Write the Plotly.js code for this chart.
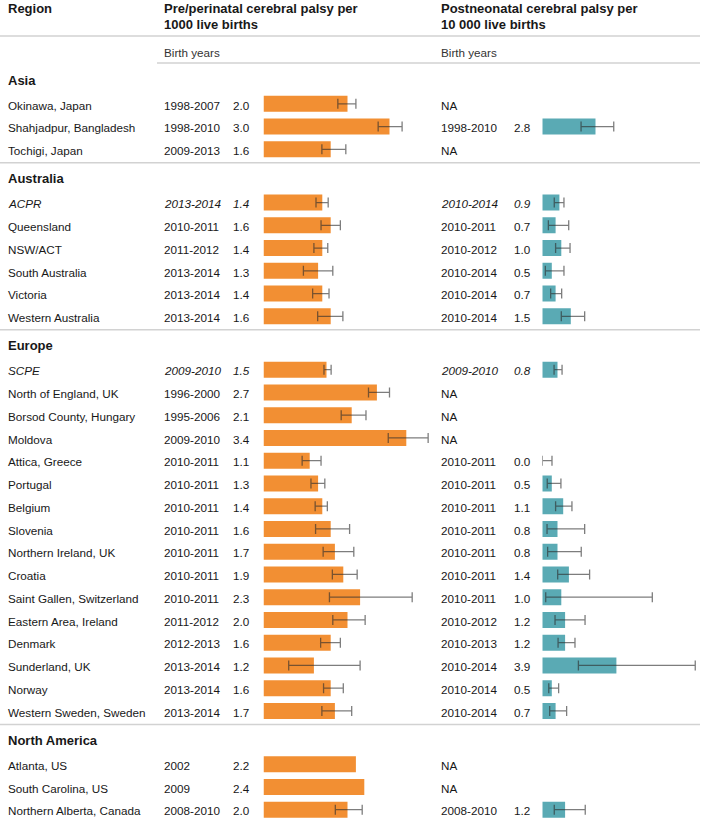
<!DOCTYPE html>
<html>
<head>
<meta charset="utf-8">
<script src="https://cdn.plot.ly/plotly-3.0.1.min.js"></script>
<style>html,body{margin:0;padding:0;background:#fff;}#chart{width:709px;height:820px;}</style>
</head>
<body>
<div id="chart"></div>
<script>
// ---------------- DATA ----------------
var sections = ["Asia", "Australia", "Europe", "North America"];
var rowSection = [0,0,0, 1,1,1,1,1,1, 2,2,2,2,2,2,2,2,2,2,2,2,2,2,2,2, 3,3,3];
var regions = ["Okinawa, Japan","Shahjadpur, Bangladesh","Tochigi, Japan",
  "ACPR","Queensland","NSW/ACT","South Australia","Victoria","Western Australia",
  "SCPE","North of England, UK","Borsod County, Hungary","Moldova","Attica, Greece","Portugal","Belgium","Slovenia","Northern Ireland, UK","Croatia","Saint Gallen, Switzerland","Eastern Area, Ireland","Denmark","Sunderland, UK","Norway","Western Sweden, Sweden",
  "Atlanta, US","South Carolina, US","Northern Alberta, Canada"];
var pooled = ["ACPR", "SCPE"];

var preYears = ["1998-2007","1998-2010","2009-2013",
  "2013-2014","2010-2011","2011-2012","2013-2014","2013-2014","2013-2014",
  "2009-2010","1996-2000","1995-2006","2009-2010","2010-2011","2010-2011","2010-2011","2010-2011","2010-2011","2010-2011","2010-2011","2011-2012","2012-2013","2013-2014","2013-2014","2013-2014",
  "2002","2009","2008-2010"];
var preRate = [2.0,3.0,1.6, 1.4,1.6,1.4,1.3,1.4,1.6, 1.5,2.7,2.1,3.4,1.1,1.3,1.4,1.6,1.7,1.9,2.3,2.0,1.6,1.2,1.6,1.7, 2.2,2.4,2.0];
var preLow  = [1.77,2.73,1.39, 1.25,1.37,1.20,0.95,1.17,1.29, 1.44,2.50,1.85,2.97,0.92,1.13,1.23,1.24,1.42,1.64,1.57,1.65,1.36,0.60,1.43,1.39, null,null,1.71];
var preHigh = [2.20,3.30,1.96, 1.54,1.83,1.53,1.65,1.56,1.89, 1.61,3.00,2.44,3.92,1.37,1.46,1.52,2.05,2.15,2.23,3.54,2.42,1.83,2.30,1.90,2.10, null,null,2.35];

var postYears = ["NA","1998-2010","NA",
  "2010-2014","2010-2011","2010-2012","2010-2014","2010-2014","2010-2014",
  "2009-2010","NA","NA","NA","2010-2011","2010-2011","2010-2011","2010-2011","2010-2011","2010-2011","2010-2011","2010-2012","2010-2013","2010-2014","2010-2014","2010-2014",
  "NA","NA","2008-2010"];
var postRate = [null,2.8,null, 0.9,0.7,1.0,0.5,0.7,1.5, 0.8,null,null,null,0.0,0.5,1.1,0.8,0.8,1.4,1.0,1.2,1.2,3.9,0.5,0.7, null,null,1.2];
var postLow  = [null,2.04,null, 0.63,0.32,0.70,0.16,0.44,1.00, 0.62,null,null,null,0.00,0.26,0.70,0.25,0.28,0.81,0.18,0.67,0.83,1.90,0.34,0.39, null,null,0.63];
var postHigh = [null,3.76,null, 1.14,1.39,1.46,1.14,1.02,2.23, 1.04,null,null,null,0.51,0.98,1.56,2.23,2.05,2.49,5.79,2.25,1.72,8.05,0.86,1.28, null,null,2.26];

var headerPre = ["Pre/perinatal cerebral palsy per", "1000 live births"];
var headerPost = ["Postneonatal cerebral palsy per", "10 000 live births"];
var headerRegion = "Region";
var subHeader = "Birth years";

// ---------------- LAYOUT HELPERS ----------------
var W = 709, H = 820;
var FONT = "Liberation Sans, Arial, Helvetica, sans-serif";
var TXT = "#181818";
function px(x){ return x / W; }

// vertical row positions (pixel-like units on reversed y axis)
var rowY = [], secY = [], sepY = [];
var y = 79;
for (var s = 0; s < sections.length; s++) {
  secY.push(y);
  y += 24.8;
  var last = y;
  for (var i = 0; i < regions.length; i++) {
    if (rowSection[i] === s) { rowY[i] = y; last = y; y += 22.75; }
  }
  if (s < sections.length - 1) {
    var sp = last + 13.5;
    sepY.push(sp);
    y = sp + 15;
  }
}

function errs(rate, lo, hi) {
  var plus = [], minus = [];
  for (var i = 0; i < rate.length; i++) {
    if (rate[i] === null || lo[i] === null || hi[i] === null) { plus.push(NaN); minus.push(NaN); }
    else { plus.push(hi[i] - rate[i]); minus.push(rate[i] - lo[i]); }
  }
  return {plus: plus, minus: minus};
}
var ePre = errs(preRate, preLow, preHigh);
var ePost = errs(postRate, postLow, postHigh);

var errStyle = {color: "rgba(45,45,45,0.62)", thickness: 1.3, width: 5};

var traces = [
  {
    type: "bar", orientation: "h", x: preRate, y: rowY, width: 16,
    xaxis: "x", yaxis: "y",
    marker: {color: "#F28F33", line: {width: 0}},
    error_x: Object.assign({type: "data", symmetric: false, array: ePre.plus, arrayminus: ePre.minus}, errStyle),
    hoverinfo: "skip", showlegend: false
  },
  {
    type: "bar", orientation: "h", x: postRate, y: rowY, width: 16,
    xaxis: "x2", yaxis: "y",
    marker: {color: "#5AAAB4", line: {width: 0}},
    error_x: Object.assign({type: "data", symmetric: false, array: ePost.plus, arrayminus: ePost.minus}, errStyle),
    hoverinfo: "skip", showlegend: false
  }
];

var ann = [];
function addText(text, x, yy, opts) {
  opts = opts || {};
  ann.push({
    text: text, xref: "paper", x: px(x), yref: "y", y: yy,
    xanchor: opts.anchor || "left", yanchor: "middle", showarrow: false,
    borderpad: 0,
    font: {family: FONT, size: opts.size || 11.7, color: opts.color || TXT, weight: opts.weight || "normal", style: opts.style || "normal"}
  });
}

// headers
addText(headerRegion, 7, 8, {size: 13, weight: "bold"});
addText(headerPre[0], 163, 8, {size: 13, weight: "bold"});
addText(headerPre[1], 163, 24.5, {size: 13, weight: "bold"});
addText(headerPost[0], 440, 8, {size: 13, weight: "bold"});
addText(headerPost[1], 440, 24.5, {size: 13, weight: "bold"});
addText(subHeader, 163, 52, {size: 11.7, color: "#333"});
addText(subHeader, 440, 52, {size: 11.7, color: "#333"});

for (var s2 = 0; s2 < sections.length; s2++) {
  addText(sections[s2], 7, secY[s2] + 1, {size: 13, weight: "bold"});
}
for (var k = 0; k < regions.length; k++) {
  var it = pooled.indexOf(regions[k]) >= 0 ? "italic" : "normal";
  var yy = rowY[k] + 1.2;
  addText(regions[k], 7, yy, {style: it});
  addText(preYears[k], 163, yy, {style: it});
  addText(preRate[k].toFixed(1), 232, yy, {style: it});
  addText(postYears[k], 440, yy, {style: it});
  if (postRate[k] !== null) addText(postRate[k].toFixed(1), 513, yy, {style: it});
}

var shapes = [];
function hline(x0, x1, yy) {
  shapes.push({type: "line", xref: "paper", yref: "y", x0: px(x0), x1: px(x1), y0: yy, y1: yy,
    line: {color: "#d2d2d2", width: 1.5}});
}
hline(0, 700, 36);
hline(157, 700, 63);
sepY.forEach(function(v){ hline(0, 700, v); });

var layout = {
  width: W, height: H,
  margin: {l: 0, r: 0, t: 0, b: 0, pad: 0},
  paper_bgcolor: "#ffffff", plot_bgcolor: "#ffffff",
  showlegend: false,
  xaxis: {domain: [px(263.5), px(440)], range: [0, (440 - 263.5) / 42], visible: false, fixedrange: true, anchor: "y"},
  xaxis2: {domain: [px(542.3), 1], range: [0, (709 - 542.3) / 19], visible: false, fixedrange: true, anchor: "y"},
  yaxis: {domain: [0, 1], range: [H, 0], visible: false, fixedrange: true},
  annotations: ann,
  shapes: shapes
};

Plotly.newPlot("chart", traces, layout, {displayModeBar: false, staticPlot: true});
</script>
</body>
</html>
